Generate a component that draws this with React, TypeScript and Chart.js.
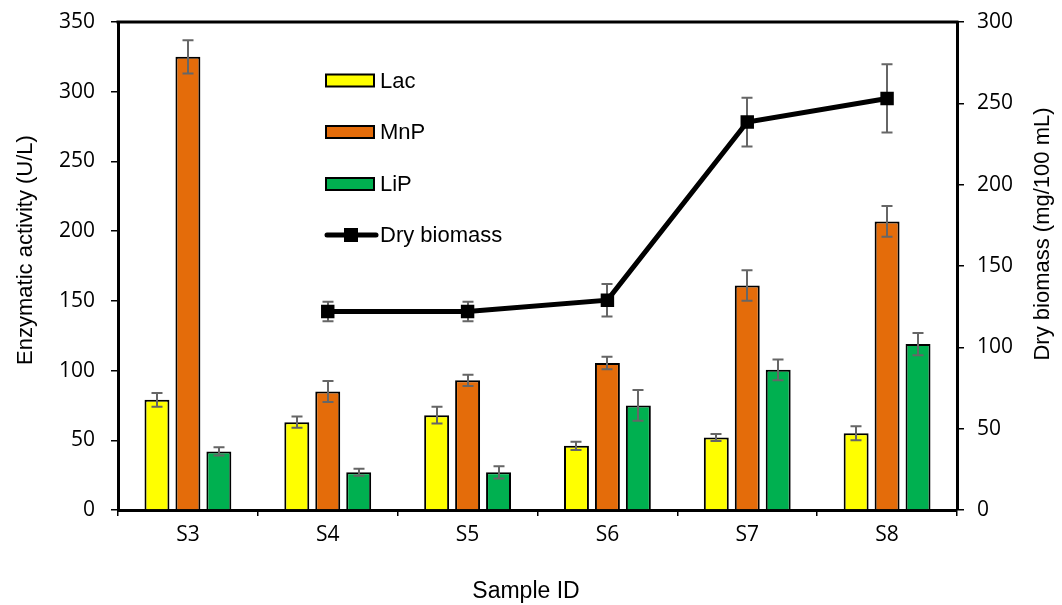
import { useEffect, useRef } from "react";
import { Chart, registerables } from "chart.js";

Chart.register(...registerables);

const categories = ["S3", "S4", "S5", "S6", "S7", "S8"];
const lacValues = [79, 63, 68, 46, 52, 55];
const lacErrors = [5, 4, 6, 3, 2.5, 5];
const mnpValues = [325, 85, 93, 105.5, 161, 207];
const mnpErrors = [12, 7.5, 4, 4.5, 11, 11];
const lipValues = [42, 27, 27, 75, 100.5, 119];
const lipErrors = [3, 2.5, 4.4, 11, 7.5, 8];
const biomassValues = [null, 122, 122, 129, 238.5, 253];
const biomassErrors = [null, 6, 6, 10, 15, 21];
const leftTickValues = [0, 50, 100, 150, 200, 250, 300, 350];
const rightTickValues = [0, 50, 100, 150, 200, 250, 300];
const seriesNames = ["Lac", "MnP", "LiP", "Dry biomass"];
const seriesColors = ["#FFFF00", "#E46C0A", "#00B050", "#000000"];
const titles = {
  left: "Enzymatic activity (U/L)",
  right: "Dry biomass (mg/100 mL)",
  bottom: "Sample ID",
};

const SANS = "'Liberation Sans', Arial, sans-serif";
const TICKFONT = "'Open Sans', 'Noto Sans', sans-serif";

function drawErrors(chart: any, i: number) {
  const ds = chart.data.datasets[i];
  const errs = ds.errors;
  if (!errs) return;
  const meta = chart.getDatasetMeta(i);
  const scale = chart.scales[meta.yAxisID];
  const ctx = chart.ctx;
  ctx.save();
  ctx.strokeStyle = "#666666";
  ctx.lineWidth = 2;
  const cap = 5.5;
  meta.data.forEach((el: any, j: number) => {
    const v = ds.data[j];
    const e = errs[j];
    if (v == null || e == null) return;
    const x = Math.round(el.x);
    const yt = scale.getPixelForValue(v + e);
    const yb = scale.getPixelForValue(v - e);
    ctx.beginPath();
    ctx.moveTo(x, yt);
    ctx.lineTo(x, yb);
    ctx.moveTo(x - cap, yt);
    ctx.lineTo(x + cap, yt);
    ctx.moveTo(x - cap, yb);
    ctx.lineTo(x + cap, yb);
    ctx.stroke();
  });
  ctx.restore();
}

const errorBarPlugin = {
  id: "errorBars",
  beforeDatasetDraw(chart: any, args: any) {
    if (chart.data.datasets[args.index].type === "line") drawErrors(chart, args.index);
  },
  afterDatasetDraw(chart: any, args: any) {
    if (chart.data.datasets[args.index].type !== "line") drawErrors(chart, args.index);
  },
};

const decorPlugin = {
  id: "decor",
  afterDraw(chart: any) {
    const ctx = chart.ctx;
    const area = chart.chartArea;
    ctx.save();
    // top border
    ctx.strokeStyle = "#000";
    ctx.lineWidth = 3;
    ctx.beginPath();
    ctx.moveTo(area.left - 1.5, area.top);
    ctx.lineTo(area.right + 1.5, area.top);
    ctx.stroke();

    // legend
    const lx = 326;
    const ys = [80.5, 132, 184, 235];
    ctx.font = `22px ${SANS}`;
    ctx.textBaseline = "middle";
    ctx.textAlign = "left";
    for (let k = 0; k < 4; k++) {
      const y = ys[k];
      if (k < 3) {
        ctx.fillStyle = seriesColors[k];
        ctx.fillRect(lx, y - 6, 48, 12);
        ctx.strokeStyle = "#000";
        ctx.lineWidth = 2;
        ctx.strokeRect(lx, y - 6, 48, 12);
      } else {
        ctx.strokeStyle = "#000";
        ctx.lineWidth = 5;
        ctx.lineCap = "round";
        ctx.beginPath();
        ctx.moveTo(lx + 1, y);
        ctx.lineTo(lx + 50, y);
        ctx.stroke();
        ctx.fillStyle = "#000";
        ctx.fillRect(lx + 18, y - 7, 14, 14);
      }
      ctx.fillStyle = "#000";
      ctx.fillText(seriesNames[k], 380, y + 1);
    }

    // axis titles
    ctx.fillStyle = "#000";
    ctx.textAlign = "center";
    ctx.textBaseline = "middle";
    ctx.font = `22px ${SANS}`;
    ctx.save();
    ctx.translate(26, 250);
    ctx.rotate(-Math.PI / 2);
    ctx.fillText(titles.left, 0, 0);
    ctx.restore();
    ctx.save();
    ctx.translate(1043, 234);
    ctx.rotate(-Math.PI / 2);
    ctx.fillText(titles.right, 0, 0);
    ctx.restore();
    ctx.font = `23px ${SANS}`;
    ctx.fillText(titles.bottom, 526, 592);
    ctx.restore();
  },
};

export default function App() {
  const ref = useRef<HTMLCanvasElement | null>(null);
  useEffect(() => {
    if (!ref.current) return;
    const barCommon = {
      type: "bar" as const,
      borderColor: "#000",
      borderWidth: 2,
      categoryPercentage: 0.664,
      barPercentage: 0.806,
      yAxisID: "y",
    };
    const yFit = (w: number) => (s: any) => {
      s.width = w;
      s.paddingTop = 0;
      s.paddingBottom = 0;
    };
    const chart = new Chart(ref.current, {
      type: "bar",
      data: {
        labels: categories,
        datasets: [
          { ...barCommon, label: seriesNames[0], data: lacValues, backgroundColor: seriesColors[0], errors: lacErrors } as any,
          { ...barCommon, label: seriesNames[1], data: mnpValues, backgroundColor: seriesColors[1], errors: mnpErrors } as any,
          { ...barCommon, label: seriesNames[2], data: lipValues, backgroundColor: seriesColors[2], errors: lipErrors } as any,
          {
            type: "line",
            label: seriesNames[3],
            data: biomassValues,
            errors: biomassErrors,
            yAxisID: "y2",
            borderColor: "#000",
            borderWidth: 5,
            backgroundColor: "#000",
            pointStyle: "rect",
            pointRadius: 9.5,
            pointBorderWidth: 0,
            pointBackgroundColor: "#000",
            tension: 0,
            order: -1,
          } as any,
        ],
      },
      options: {
        animation: false,
        responsive: false,
        devicePixelRatio: 1,
        layout: { padding: { top: 22, left: 0, right: 0, bottom: 0 } },
        plugins: {
          legend: { display: false },
          tooltip: { enabled: false },
        },
        scales: {
          x: {
            type: "category",
            offset: true,
            grid: {
              offset: true,
              drawOnChartArea: false,
              drawTicks: true,
              tickLength: 6,
              color: "#000",
              lineWidth: 1.5,
            },
            border: { display: true, color: "#000", width: 3 },
            ticks: {
              color: "#000",
              font: { family: TICKFONT, size: 21 },
              padding: 6,
            },
            afterFit: (s: any) => {
              s.height = 95;
              s.paddingLeft = 0;
              s.paddingRight = 0;
            },
          },
          y: {
            type: "linear",
            position: "left",
            min: 0,
            max: 350,
            afterBuildTicks: (s: any) => {
              s.ticks = leftTickValues.map((v) => ({ value: v }));
            },
            grid: {
              drawOnChartArea: false,
              drawTicks: true,
              tickLength: 7,
              color: "#000",
              lineWidth: 1.5,
            },
            border: { display: true, color: "#000", width: 3 },
            ticks: {
              color: "#000",
              font: { family: TICKFONT, size: 21 },
              padding: 16,
            },
            afterFit: yFit(118),
          },
          y2: {
            type: "linear",
            position: "right",
            min: 0,
            max: 300,
            afterBuildTicks: (s: any) => {
              s.ticks = rightTickValues.map((v) => ({ value: v }));
            },
            grid: {
              drawOnChartArea: false,
              drawTicks: true,
              tickLength: 7,
              color: "#000",
              lineWidth: 1.5,
            },
            border: { display: true, color: "#000", width: 3 },
            ticks: {
              color: "#000",
              font: { family: TICKFONT, size: 21 },
              padding: 13,
            },
            afterFit: yFit(105),
          },
        },
      } as any,
      plugins: [errorBarPlugin, decorPlugin],
    });
    return () => chart.destroy();
  }, []);
  return (
    <div style={{ position: "absolute", left: 0, top: 0, width: 1062, height: 605, background: "#fff" }}>
      <canvas ref={ref} width={1062} height={605} style={{ display: "block", width: 1062, height: 605 }} />
    </div>
  );
}
